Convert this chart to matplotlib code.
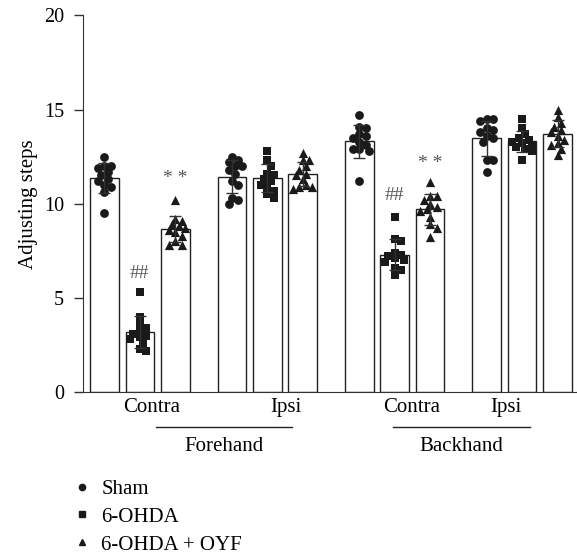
import numpy as np
import matplotlib.pyplot as plt
from matplotlib.lines import Line2D
from matplotlib.transforms import blended_transform_factory

plt.rcParams['font.family'] = ['Liberation Serif', 'DejaVu Serif']

groups = ["Sham", "6-OHDA", "6-OHDA + OYF"]
sides = ["Contra", "Ipsi", "Contra", "Ipsi"]
tests = ["Forehand", "Backhand"]

# forehand contra
fc_sham = [12.5, 12.0, 12.0, 11.9, 11.7, 11.5, 11.3, 11.2, 11.0, 10.9, 10.6, 9.5]
fc_ohda = [5.3, 4.0, 3.6, 3.4, 3.2, 3.1, 3.0, 2.9, 2.8, 2.6, 2.3, 2.2]
fc_oyf = [10.2, 9.2, 9.1, 8.9, 8.8, 8.7, 8.6, 8.5, 8.3, 8.0, 7.8, 7.8]
# forehand ipsi
fi_sham = [12.5, 12.3, 12.2, 12.0, 12.0, 11.8, 11.6, 11.2, 11.0, 10.3, 10.0, 10.2]
fi_ohda = [12.8, 12.3, 12.0, 11.6, 11.5, 11.3, 11.2, 11.0, 10.9, 10.7, 10.5, 10.3]
fi_oyf = [12.7, 12.3, 12.3, 12.0, 11.8, 11.6, 11.5, 11.3, 11.0, 10.9, 10.9, 10.8]
# backhand contra
bc_sham = [14.7, 14.1, 14.0, 13.7, 13.6, 13.5, 13.3, 13.1, 12.9, 12.8, 12.9, 11.2]
bc_ohda = [9.3, 8.1, 8.0, 7.4, 7.3, 7.2, 7.1, 7.0, 6.9, 6.6, 6.5, 6.2]
bc_oyf = [11.15, 10.4, 10.4, 10.2, 10.0, 9.8, 9.7, 9.6, 9.3, 8.9, 8.7, 8.25]
# backhand ipsi
bi_sham = [14.5, 14.5, 14.4, 14.0, 13.9, 13.8, 13.6, 13.5, 13.3, 12.3, 12.3, 11.7]
bi_ohda = [14.5, 14.0, 13.7, 13.5, 13.4, 13.3, 13.2, 13.1, 13.0, 12.9, 12.8, 12.3]
bi_oyf = [15.0, 14.6, 14.3, 14.1, 13.9, 13.8, 13.6, 13.4, 13.2, 13.1, 12.9, 12.6]

data = [[fc_sham, fc_ohda, fc_oyf], [fi_sham, fi_ohda, fi_oyf],
        [bc_sham, bc_ohda, bc_oyf], [bi_sham, bi_ohda, bi_oyf]]

# significance marks: (condition, group, text, y)
marks = [(0, 1, "##", 6.3), (0, 2, "* *", 11.35), (2, 1, "##", 10.45), (2, 2, "* *", 12.15)]

markers = ['o', 's', '^']
sizes = [40, 32, 44]
ink = '#1a1a1a'

fig = plt.figure(figsize=(5.77, 5.56), dpi=100)
ax = fig.add_axes([0.1433, 0.295, 0.8567, 0.6772])
xmin, xmax = -0.616, 13.35
ax.set_xlim(xmin, xmax)
ax.set_ylim(0, 20)

W, H = fig.get_size_inches() * fig.dpi
sx = 0.8567 * W / (xmax - xmin)
sy = 0.6772 * H / 20.0


def swarm(vals, d, lim):
    # simple beeswarm in pixel space, offsets kept inside +-lim px
    vals = np.asarray(vals, dtype=float)
    offs = np.zeros(len(vals))
    placed = []
    for i in np.argsort(-vals):
        y = vals[i] * sy
        best, bestcost = 0.0, None
        for k in range(int(lim / (d * 0.25)) + 1):
            for sgn in ([0] if k == 0 else [1, -1]):
                ox = sgn * k * d * 0.25
                clash = sum(max(0.0, d - np.hypot(ox - px, y - py)) for px, py in placed)
                if clash == 0:
                    best, bestcost = ox, 0
                    break
                if bestcost is None or clash < bestcost:
                    best, bestcost = ox, clash
            if bestcost == 0:
                break
        placed.append((best, y))
        offs[i] = best / sx
    return offs


for c, cond in enumerate(data):
    for g, vals in enumerate(cond):
        x = c * 3.6 + g
        m = np.mean(vals)
        sd = np.std(vals, ddof=1)
        ax.bar(x, m, width=0.81, color='white', edgecolor='#222222', linewidth=1.0, zorder=1)
        ax.scatter(x + swarm(vals, 6.5, 10.0), vals, marker=markers[g], s=sizes[g],
                   color=ink, linewidths=0, zorder=2)
        ax.errorbar(x, m, yerr=sd, fmt='none', ecolor='#333333', elinewidth=1.0,
                    capsize=4.5, capthick=1.0, zorder=3)

for c, g, txt, y in marks:
    ax.text(c * 3.6 + g, y, txt, ha='center', va='center', fontsize=14, color='#555555')

ax.spines['top'].set_visible(False)
ax.spines['right'].set_visible(False)
ax.spines['left'].set_color('#333333')
ax.spines['bottom'].set_color('#333333')
ax.set_xticks([])
ax.set_yticks([0, 5, 10, 15, 20])
ax.tick_params(axis='y', length=6.3, width=1.0, color='#333333', pad=7, labelsize=14.5)
ax.set_ylabel("Adjusting steps", fontsize=15)
ax.yaxis.set_label_coords(-0.09, 0.5)

tr = blended_transform_factory(ax.transData, ax.transAxes)
side_x = [1.34, 5.13, 8.69, 11.34]
for sx_, lab in zip(side_x, sides):
    ax.text(sx_, -0.0425, lab, transform=tr, ha='center', va='center', fontsize=15)
spans = [(1.45, 5.29), (8.15, 12.02)]
for (a, b), lab in zip(spans, tests):
    ax.plot([a, b], [-0.093, -0.093], transform=tr, color='#222222', lw=1.0, clip_on=False)
    ax.text((a + b) / 2, -0.146, lab, transform=tr, ha='center', va='center', fontsize=15)

handles = [Line2D([], [], marker=mk, linestyle='none', color=ink, markersize=ms)
           for mk, ms in zip(markers, [4.5, 4.0, 4.5])]
fig.legend(handles, groups, loc='upper left', bbox_to_anchor=(0.132, 0.138),
           frameon=False, fontsize=15, handlelength=0.6, handletextpad=0.6,
           labelspacing=0.4, borderpad=0, borderaxespad=0)

fig.savefig("out.png", dpi=100)
